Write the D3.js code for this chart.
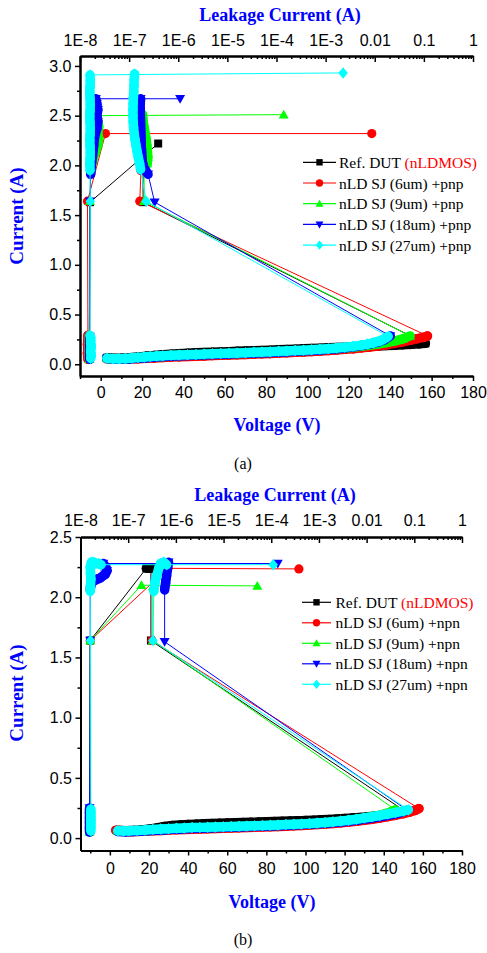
<!DOCTYPE html>
<html><head><meta charset="utf-8">
<script src="https://cdn.jsdelivr.net/npm/d3@7"></script>
<style>body{margin:0;background:#fff}svg{display:block}</style>
</head><body>
<svg id="c" width="487" height="953"></svg>
<script>
// ---------------- DATA ----------------
const seriesNamesA = ["Ref. DUT ", "nLD SJ (6um) +pnp", "nLD SJ (9um) +pnp", "nLD SJ (18um) +pnp", "nLD SJ (27um) +pnp"];
const seriesNamesB = ["Ref. DUT ", "nLD SJ (6um) +npn", "nLD SJ (9um) +npn", "nLD SJ (18um) +npn", "nLD SJ (27um) +npn"];
const refSuffix = "(nLDMOS)";
const voltageTicks = [0, 20, 40, 60, 80, 100, 120, 140, 160, 180];
const voltageMinor = [-10, 10, 30, 50, 70, 90, 110, 130, 150, 170];
const currentTicksA = [0, 0.5, 1.0, 1.5, 2.0, 2.5, 3.0];
const currentMinorA = [0.25, 0.75, 1.25, 1.75, 2.25, 2.75];
const currentTicksB = [0, 0.5, 1.0, 1.5, 2.0, 2.5];
const currentMinorB = [0.25, 0.75, 1.25, 1.75, 2.25];
const leakTicks = [1e-8, 1e-7, 1e-6, 1e-5, 1e-4, 1e-3, 1e-2, 1e-1, 1];
const leakTickLabels = ["1E-8", "1E-7", "1E-6", "1E-5", "1E-4", "1E-3", "0.01", "0.1", "1"];
const leakMinorMult = [2, 3, 4, 5, 6, 7, 8, 9];

// Panel (a): TLP I-V  [voltage V, current A]
const ivA_ref = [[3,0.065],[6,0.06],[10,0.06],[14,0.065],[18,0.072],[22,0.08],[26,0.088],[30,0.096],[34,0.102],[38,0.107],[42,0.111],[46,0.115],[50,0.118],[54,0.121],[58,0.124],[62,0.127],[66,0.13],[70,0.133],[74,0.136],[78,0.139],[82,0.142],[86,0.145],[90,0.149],[94,0.152],[98,0.156],[102,0.159],[106,0.162],[110,0.165],[114,0.168],[118,0.171],[122,0.174],[126,0.177],[130,0.18],[134,0.184],[138,0.188],[142,0.192],[146,0.196],[150,0.2],[154,0.205],[157,0.21],
  [20.5,1.63],[20.5,1.95],[21,2.05],[21,2.15],[21,2.22]];
const ivA_6 = [[3,0.055],[6,0.05],[10,0.05],[14,0.052],[18,0.056],[22,0.06],[26,0.064],[30,0.068],[34,0.072],[38,0.075],[42,0.078],[46,0.081],[50,0.084],[54,0.087],[58,0.09],[62,0.093],[66,0.096],[70,0.099],[74,0.102],[78,0.105],[82,0.108],[86,0.112],[90,0.116],[94,0.12],[98,0.124],[102,0.128],[106,0.133],[110,0.138],[114,0.144],[118,0.15],[122,0.157],[126,0.165],[130,0.174],[134,0.184],[138,0.196],[142,0.21],[146,0.226],[150,0.243],[153,0.257],[156,0.27],[158,0.285],
  [18.9,1.64],[19.5,1.95],[20.2,2.02],[20.5,2.1],[20.5,2.18],[20.3,2.25],[20,2.32]];
const ivA_9 = [[3,0.058],[6,0.053],[10,0.053],[14,0.056],[18,0.062],[22,0.068],[26,0.074],[30,0.079],[34,0.084],[38,0.088],[42,0.091],[46,0.094],[50,0.097],[54,0.1],[58,0.103],[62,0.106],[66,0.109],[70,0.112],[74,0.115],[78,0.118],[82,0.121],[86,0.125],[90,0.129],[94,0.133],[98,0.137],[102,0.141],[106,0.146],[110,0.151],[114,0.157],[118,0.164],[122,0.172],[126,0.181],[130,0.191],[134,0.203],[138,0.217],[142,0.233],[146,0.255],[149.6,0.285],
  [21,1.64],[21,1.97],[22.5,2.02],[22.8,2.08],[22.6,2.14],[22.3,2.2],[22,2.26],[21.5,2.32],[21,2.38],[20.5,2.44],[20.3,2.51]];
const ivA_18 = [[3,0.057],[6,0.052],[10,0.052],[14,0.055],[18,0.06],[22,0.066],[26,0.072],[30,0.077],[34,0.082],[38,0.086],[42,0.089],[46,0.092],[50,0.095],[54,0.098],[58,0.101],[62,0.104],[66,0.107],[70,0.11],[74,0.113],[78,0.116],[82,0.119],[86,0.123],[90,0.127],[94,0.131],[98,0.135],[102,0.139],[106,0.144],[110,0.15],[114,0.157],[118,0.165],[122,0.175],[126,0.187],[130,0.202],[134,0.222],[137,0.245],[140,0.285],
  [26.1,1.63],[22.9,1.91],[20.5,1.99],[20,2.06],[19.8,2.13],[19.6,2.2],[19.5,2.27],[19.4,2.34],[19.3,2.41],[19.2,2.48],[19.1,2.55],[19.1,2.62],[19.3,2.67]];
const ivA_27 = [[3,0.06],[6,0.055],[9,0.055],[12,0.058],[15,0.062],[18,0.067],[21,0.072],[24,0.077],[27,0.082],[30,0.086],[34,0.09],[38,0.093],[42,0.096],[46,0.099],[50,0.102],[54,0.105],[58,0.108],[62,0.111],[66,0.114],[70,0.117],[74,0.12],[78,0.123],[82,0.126],[86,0.13],[90,0.134],[94,0.138],[98,0.142],[102,0.146],[106,0.15],[110,0.156],[114,0.163],[118,0.171],[122,0.18],[126,0.192],[129,0.203],[132,0.217],[135,0.235],[137,0.255],[139,0.28],
  [22,1.64],[19.3,1.96],[18.8,2.02],[18.2,2.08],[17.6,2.14],[17.1,2.2],[16.6,2.26],[16.2,2.32],[15.9,2.38],[15.7,2.44],[15.6,2.5],[15.6,2.56],[15.7,2.62],[15.8,2.68],[16,2.74],[16.1,2.8],[16.2,2.86],[16.4,2.92]];

// Panel (a): leakage  [leakage A, pulse current A]
const leakA_ref = [[1.55e-8,0.06],[1.55e-8,0.1],[1.55e-8,0.14],[1.55e-8,0.18],[1.55e-8,0.22],[1.55e-8,0.26],[1.6e-8,1.63],[3.9e-7,2.22]];
const leakA_6 = [[1.45e-8,0.05],[1.45e-8,0.08],[1.42e-8,0.11],[1.45e-8,0.14],[1.45e-8,0.17],[1.42e-8,0.2],[1.45e-8,0.23],[1.45e-8,0.26],[1.45e-8,0.29],[1.42e-8,1.64],[3.3e-8,2.32],[8.7e-3,2.32]];
const leakA_9 = [[1.55e-8,0.05],[1.55e-8,0.09],[1.55e-8,0.13],[1.55e-8,0.17],[1.55e-8,0.21],[1.55e-8,0.25],[1.55e-8,0.29],[1.6e-8,1.64],[1.65e-8,1.95],[1.8e-8,2.05],[2.1e-8,2.15],[2.3e-8,2.21],[2.4e-8,2.27],[2.3e-8,2.33],[2.4e-8,2.39],[2.3e-8,2.45],[2.2e-8,2.5],[1.4e-4,2.51]];
const leakA_18 = [[1.58e-8,0.05],[1.58e-8,0.09],[1.58e-8,0.13],[1.58e-8,0.17],[1.58e-8,0.21],[1.58e-8,0.25],[1.58e-8,0.28],[1.6e-8,1.64],[1.65e-8,1.91],[1.7e-8,2.0],[1.8e-8,2.1],[1.9e-8,2.2],[2.0e-8,2.3],[2.2e-8,2.37],[2.3e-8,2.44],[2.2e-8,2.5],[2.3e-8,2.56],[2.2e-8,2.62],[2.1e-8,2.67],[1.09e-6,2.67]];
const leakA_27 = [[1.65e-8,0.06],[1.7e-8,0.09],[1.65e-8,0.12],[1.65e-8,0.15],[1.7e-8,0.18],[1.65e-8,0.21],[1.65e-8,0.24],[1.65e-8,0.27],[1.6e-8,0.29],[1.62e-8,1.64],[1.6e-8,1.95],[1.58e-8,2.01],[1.6e-8,2.07],[1.62e-8,2.13],[1.6e-8,2.19],[1.58e-8,2.25],[1.6e-8,2.31],[1.62e-8,2.37],[1.6e-8,2.43],[1.58e-8,2.49],[1.6e-8,2.55],[1.62e-8,2.61],[1.6e-8,2.67],[1.58e-8,2.73],[1.6e-8,2.79],[1.62e-8,2.85],[1.6e-8,2.91],[2.27e-3,2.93]];

// Panel (b): TLP I-V
const ivB_ref = [[4,0.065],[8,0.062],[12,0.064],[16,0.068],[20,0.074],[24,0.084],[28,0.096],[32,0.104],[36,0.109],[40,0.113],[44,0.116],[48,0.119],[52,0.121],[56,0.123],[60,0.125],[64,0.127],[68,0.129],[72,0.131],[76,0.133],[80,0.135],[84,0.137],[88,0.139],[92,0.141],[96,0.143],[100,0.146],[104,0.149],[108,0.152],[112,0.155],[116,0.158],[120,0.162],[124,0.166],[128,0.171],[132,0.177],[136,0.184],[140,0.192],[144,0.201],[148,0.212],[151,0.222],
  [21,1.64],[21,2.24]];
const ivB_6 = [[3,0.065],[6,0.055],[10,0.053],[14,0.055],[18,0.058],[22,0.061],[26,0.064],[30,0.067],[34,0.07],[38,0.072],[42,0.074],[46,0.076],[50,0.078],[54,0.08],[58,0.082],[62,0.084],[66,0.086],[70,0.088],[74,0.09],[78,0.092],[82,0.094],[86,0.096],[90,0.099],[94,0.102],[98,0.105],[102,0.109],[106,0.113],[110,0.117],[114,0.122],[118,0.127],[122,0.133],[126,0.14],[130,0.148],[134,0.157],[138,0.167],[142,0.178],[146,0.19],[150,0.203],[153,0.215],[156,0.23],[158,0.245],
  [21.5,1.64]];
const ivB_9 = [[4,0.058],[8,0.055],[12,0.057],[16,0.06],[20,0.064],[24,0.068],[28,0.072],[32,0.075],[36,0.078],[40,0.081],[44,0.084],[48,0.086],[52,0.088],[56,0.09],[60,0.092],[64,0.094],[68,0.096],[72,0.098],[76,0.1],[80,0.102],[84,0.104],[88,0.107],[92,0.11],[96,0.113],[100,0.116],[104,0.12],[108,0.124],[112,0.129],[116,0.135],[120,0.142],[124,0.15],[128,0.16],[132,0.171],[136,0.183],[140,0.198],[143,0.214],[146,0.235],
  [22,1.64],[22,2.09]];
const ivB_18 = [[4,0.055],[8,0.053],[12,0.055],[16,0.058],[20,0.062],[24,0.066],[28,0.07],[32,0.073],[36,0.076],[40,0.079],[44,0.082],[48,0.084],[52,0.086],[56,0.088],[60,0.09],[64,0.092],[68,0.094],[72,0.096],[76,0.098],[80,0.1],[84,0.102],[88,0.105],[92,0.108],[96,0.111],[100,0.114],[104,0.118],[108,0.122],[112,0.127],[116,0.132],[120,0.138],[124,0.145],[128,0.153],[132,0.162],[136,0.172],[140,0.183],[144,0.196],[148,0.21],[152,0.232],
  [28,1.63],[28,2.06],[28.5,2.12],[29,2.18],[29.5,2.24],[30,2.29]];
const ivB_27 = [[4,0.06],[7,0.058],[10,0.06],[14,0.063],[18,0.067],[22,0.071],[26,0.075],[30,0.078],[34,0.081],[38,0.084],[42,0.087],[46,0.089],[50,0.091],[54,0.093],[58,0.095],[62,0.097],[66,0.099],[70,0.101],[74,0.103],[78,0.105],[82,0.107],[86,0.109],[90,0.112],[94,0.115],[98,0.118],[102,0.122],[106,0.126],[110,0.13],[114,0.135],[118,0.141],[122,0.148],[126,0.157],[130,0.167],[134,0.177],[138,0.188],[142,0.2],[146,0.212],[150,0.225],[152.6,0.235],
  [22,1.64],[22.5,2.05],[23,2.12],[24,2.18],[25,2.24],[26,2.28],[27.5,2.29],[29,2.27]];

// Panel (b): leakage
const leakB_ref = [[1.6e-8,0.06],[1.6e-8,0.1],[1.6e-8,0.14],[1.6e-8,0.18],[1.6e-8,0.22],[1.6e-8,1.64],[2.4e-7,2.24],[4.6e-7,2.24]];
const leakB_6 = [[1.6e-8,0.07],[1.6e-8,0.11],[1.6e-8,0.15],[1.6e-8,0.19],[1.6e-8,0.23],[1.6e-8,1.64],[6.8e-7,2.24],[3.8e-4,2.235]];
const leakB_9 = [[1.55e-8,0.05],[1.55e-8,0.09],[1.55e-8,0.13],[1.55e-8,0.17],[1.55e-8,0.21],[1.55e-8,0.24],[1.6e-8,1.64],[1.9e-7,2.1],[5.1e-5,2.094]];
const leakB_18 = [[1.55e-8,0.05],[1.55e-8,0.09],[1.55e-8,0.13],[1.55e-8,0.17],[1.55e-8,0.21],[1.55e-8,0.25],[1.6e-8,1.64],[1.6e-8,2.06],[1.65e-8,2.1],[1.8e-8,2.13],[2.6e-8,2.16],[3.3e-8,2.19],[3.6e-8,2.22],[3.4e-8,2.25],[3e-8,2.28],[1.37e-4,2.28]];
const leakB_27 = [[1.65e-8,0.06],[1.65e-8,0.09],[1.65e-8,0.12],[1.65e-8,0.15],[1.65e-8,0.18],[1.65e-8,0.21],[1.65e-8,0.24],[1.62e-8,1.64],[1.6e-8,2.05],[1.62e-8,2.1],[1.65e-8,2.15],[1.62e-8,2.2],[1.6e-8,2.25],[1.7e-8,2.29],[1.9e-8,2.29],[2.1e-8,2.28],[2.4e-8,2.28],[2.7e-8,2.27],[1.1e-4,2.27]];

// ---------------- STYLE / LAYOUT ----------------
const colors = ["#000000", "#ff0000", "#00ff00", "#0000ff", "#00ffff"];
const SANS = "'Liberation Sans', Arial, sans-serif";
const SERIF = "'Liberation Serif', 'Times New Roman', serif";
const BLUE = "#0000ff";
const MS = 10;          // marker size
const BAND_W = 9.5;     // width of overlapping-marker bands
const BAND_GAP = 16;    // px: consecutive points closer than this overlap into a band

function markerPath(kind, s) {
  const h = s / 2;
  switch (kind) {
    case 0: return `M${-h*0.8},${-h*0.8}H${h*0.8}V${h*0.8}H${-h*0.8}Z`;
    case 1: { const r = h*0.92; return `M${r},0A${r},${r} 0 1,1 ${-r},0A${r},${r} 0 1,1 ${r},0Z`; }
    case 2: return `M0,${-h*1.0}L${h},${h*0.75}L${-h},${h*0.75}Z`;
    case 3: return `M0,${h*1.0}L${h},${-h*0.75}L${-h},${-h*0.75}Z`;
    default: return `M0,${-h*1.15}L${h*0.95},0L0,${h*1.15}L${-h*0.95},0Z`;
  }
}

const svg = d3.select("#c");

function drawPanel(cfg) {
  const g = svg.append("g");
  const xV = d3.scaleLinear().domain(cfg.vDom).range([cfg.x0, cfg.x1]);
  const yI = d3.scaleLinear().domain(cfg.iDom).range([cfg.y1, cfg.y0]);
  const xL = d3.scaleLog().domain([1e-8, 1]).range([cfg.x0, cfg.x1]);

  const clip = "clip" + cfg.id;
  g.append("clipPath").attr("id", clip).append("rect")
    .attr("x", cfg.x0).attr("y", cfg.y0 - 6).attr("width", cfg.x1 - cfg.x0 + 8).attr("height", cfg.y1 - cfg.y0 + 6);
  const plot = g.append("g").attr("clip-path", `url(#${clip})`);

  const drawSeries = (sg, data, xs, k) => {
    const pts = data.map(d => [xs(d[0]), yI(d[1])]);
    // overlapping markers -> solid band
    for (let i = 1; i < pts.length; i++) {
      const [x1, y1] = pts[i - 1], [x2, y2] = pts[i];
      if (Math.hypot(x2 - x1, y2 - y1) < BAND_GAP) {
        sg.append("line").attr("x1", x1).attr("y1", y1).attr("x2", x2).attr("y2", y2)
          .attr("stroke", colors[k]).attr("stroke-width", BAND_W).attr("stroke-linecap", "round");
      }
    }
    sg.append("path").attr("d", d3.line()(pts)).attr("fill", "none").attr("stroke", colors[k]).attr("stroke-width", 1);
    sg.selectAll(null).data(pts).join("path")
      .attr("transform", d => `translate(${d[0]},${d[1]})`)
      .attr("d", markerPath(k, MS)).attr("fill", colors[k]);
  };

  cfg.iv.forEach((ivData, k) => {
    const sg = plot.append("g");
    drawSeries(sg, cfg.leak[k], xL, k);
    drawSeries(sg, ivData, xV, k);
  });

  // axes
  const styleAxis = (sel) => {
    sel.select(".domain").attr("stroke", "#000").attr("stroke-width", 2);
    sel.selectAll(".tick line").attr("stroke", "#000").attr("stroke-width", 1.5);
    sel.selectAll("text").attr("font-family", SANS).attr("font-size", 16).attr("fill", "#000");
  };
  const bx = g.append("g").attr("transform", `translate(0,${cfg.y1})`)
    .call(d3.axisBottom(xV).tickValues(voltageTicks).tickSize(5).tickSizeOuter(0).tickPadding(cfg.bPad).tickFormat(d3.format("d")));
  styleAxis(bx);
  const bxm = g.append("g").attr("transform", `translate(0,${cfg.y1})`)
    .call(d3.axisBottom(xV).tickValues(voltageMinor).tickSize(3).tickSizeOuter(0).tickFormat(""));
  styleAxis(bxm);
  const ly = g.append("g").attr("transform", `translate(${cfg.x0},0)`)
    .call(d3.axisLeft(yI).tickValues(cfg.iTicks).tickSize(5).tickSizeOuter(0).tickPadding(3.5).tickFormat(d3.format(".1f")));
  styleAxis(ly);
  const lym = g.append("g").attr("transform", `translate(${cfg.x0},0)`)
    .call(d3.axisLeft(yI).tickValues(cfg.iMinor).tickSize(3).tickSizeOuter(0).tickFormat(""));
  styleAxis(lym);
  const tx = g.append("g").attr("transform", `translate(0,${cfg.y0})`)
    .call(d3.axisTop(xL).tickValues(leakTicks).tickSize(-6).tickSizeOuter(0).tickPadding(cfg.tPad)
      .tickFormat((d, i) => leakTickLabels[i]));
  styleAxis(tx);
  const minorLeak = [];
  leakTicks.slice(0, -1).forEach(t => leakMinorMult.forEach(m => minorLeak.push(t * m)));
  const txm = g.append("g").attr("transform", `translate(0,${cfg.y0})`)
    .call(d3.axisTop(xL).tickValues(minorLeak).tickSize(-3).tickSizeOuter(0).tickFormat(""));
  styleAxis(txm);

  // titles
  g.append("text").attr("x", cfg.topTitle[0]).attr("y", cfg.topTitle[1]).attr("text-anchor", "middle")
    .attr("font-family", SERIF).attr("font-weight", "bold").attr("font-size", 18).attr("fill", BLUE).text("Leakage Current (A)");
  g.append("text").attr("x", cfg.xTitle[0]).attr("y", cfg.xTitle[1]).attr("text-anchor", "middle")
    .attr("font-family", SERIF).attr("font-weight", "bold").attr("font-size", 18).attr("fill", BLUE).text("Voltage (V)");
  g.append("text").attr("transform", `translate(${cfg.yTitle[0]},${cfg.yTitle[1]}) rotate(-90)`).attr("text-anchor", "middle")
    .attr("font-family", SERIF).attr("font-weight", "bold").attr("font-size", 19).attr("fill", BLUE).text("Current (A)");
  g.append("text").attr("x", 243).attr("y", cfg.caption[1]).attr("text-anchor", "middle")
    .attr("font-family", SERIF).attr("font-size", 16).attr("fill", "#000").text(cfg.caption[0]);

  // legend
  cfg.names.forEach((name, k) => {
    const y = cfg.leg.y + k * cfg.leg.dy;
    g.append("line").attr("x1", cfg.leg.lx0).attr("x2", cfg.leg.lx1).attr("y1", y).attr("y2", y)
      .attr("stroke", colors[k]).attr("stroke-width", 1.2);
    g.append("path").attr("transform", `translate(${(cfg.leg.lx0 + cfg.leg.lx1) / 2},${y})`)
      .attr("d", markerPath(k, 8)).attr("fill", colors[k]);
    const t = g.append("text").attr("x", cfg.leg.tx).attr("y", y + 5.5)
      .attr("font-family", SERIF).attr("font-size", 15.5).attr("fill", "#000");
    t.append("tspan").text(name);
    if (k === 0) t.append("tspan").attr("fill", "#ff0000").text(refSuffix);
  });
}

drawPanel({
  id: "a", x0: 80, x1: 473, y0: 56, y1: 376, vDom: [-10, 180], iDom: [-0.118, 3.1],
  iTicks: currentTicksA, iMinor: currentMinorA, bPad: 6, tPad: 10,
  iv: [ivA_ref, ivA_6, ivA_9, ivA_18, ivA_27], leak: [leakA_ref, leakA_6, leakA_9, leakA_18, leakA_27],
  names: seriesNamesA,
  topTitle: [280, 21], xTitle: [277, 431], yTitle: [23, 216], caption: ["(a)", 469],
  leg: { y: 162.3, dy: 20.7, lx0: 303, lx1: 336, tx: 339 }
});
drawPanel({
  id: "b", x0: 80.5, x1: 462, y0: 537, y1: 850.5, vDom: [-15, 180], iDom: [-0.103, 2.5],
  iTicks: currentTicksB, iMinor: currentMinorB, bPad: 7, tPad: 11,
  iv: [ivB_ref, ivB_6, ivB_9, ivB_18, ivB_27], leak: [leakB_ref, leakB_6, leakB_9, leakB_18, leakB_27],
  names: seriesNamesB,
  topTitle: [275, 501], xTitle: [272, 908], yTitle: [23, 693], caption: ["(b)", 945],
  leg: { y: 602.3, dy: 20.5, lx0: 302, lx1: 331, tx: 335.5 }
});
</script>
</body></html>
